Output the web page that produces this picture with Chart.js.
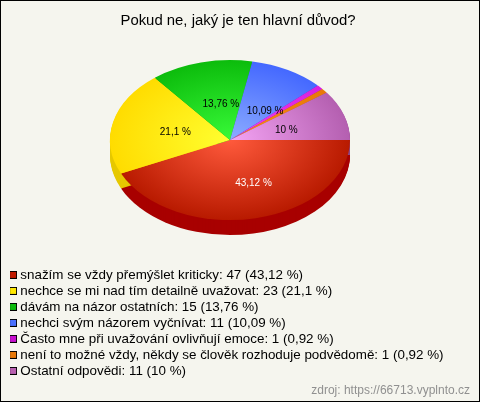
<!DOCTYPE html>
<html>
<head>
<meta charset="utf-8">
<style>
html,body{margin:0;padding:0;background:#f5f5ee}
#wrap{width:480px;height:402px}
canvas{display:block}
</style>
<script src="https://cdn.jsdelivr.net/npm/chart.js@4"></script>
</head>
<body>
<div id="wrap"><canvas id="c" width="480" height="402"></canvas></div>
<script>
const chartTitle = "Pokud ne, jaký je ten hlavní důvod?";
const sourceNote = "zdroj: https://66713.vyplnto.cz";
const categories = [
  "snažím se vždy přemýšlet kriticky",
  "nechce se mi nad tím detailně uvažovat",
  "dávám na názor ostatních",
  "nechci svým názorem vyčnívat",
  "Často mne při uvažování ovlivňují emoce",
  "není to možné vždy, někdy se člověk rozhoduje podvědomě",
  "Ostatní odpovědi"
];
const counts = [47, 23, 15, 11, 1, 1, 11];
const percentTexts = ["43,12 %", "21,1 %", "13,76 %", "10,09 %", "0,92 %", "0,92 %", "10 %"];
const sliceLabels = ["43,12 %", "21,1 %", "13,76 %", "10,09 %", "", "", "10 %"];
const labelColors = ["#ffffff", "#000000", "#000000", "#000000", "#000000", "#000000", "#000000"];
const innerColors = ["#ff5a3c", "#ffff30", "#38fa38", "#8cacff", "#f040f0", "#f88c18", "#f4a4f4"];
const outerColors = ["#b81a00", "#ffdc00", "#0cbc0c", "#4468ff", "#d820e0", "#e87808", "#b45fb0"];
const sideColors = ["#a80000", "#e6c800", "#0a9a0a", "#3050c0", "#a010a8", "#b85c00", "#8c4688"];
const legendColors = ["#c01a00", "#ffe800", "#0cbc0c", "#4a70ff", "#c810d0", "#e87808", "#b860b0"];

const squash = 2 / 3, depth = 15;
const pieBox = {left: 110, top: 20, right: 350, bottom: 260};
const labelShiftX = [11, 2, 5, 7, 0, 0, 1];
const labelShiftY = [5, 1, 2, 5, 0, 0, 2];

function legendSwatch(color) {
  const s = document.createElement("canvas");
  s.width = 8; s.height = 8;
  const g = s.getContext("2d");
  g.fillStyle = color;
  g.fillRect(0, 0, 8, 8);
  g.strokeStyle = "#000000";
  g.lineWidth = 1;
  g.strokeRect(0.5, 0.5, 7, 7);
  return s;
}

const pie3d = {
  id: "pie3d",
  afterLayout(chart) {
    chart.chartArea = Object.assign({}, pieBox, {width: pieBox.right - pieBox.left, height: pieBox.bottom - pieBox.top});
    chart.legend.left += 4;
    chart.legend.top += 8;
  },
  beforeDatasetsDraw(chart) {
    const ctx = chart.ctx, arcs = chart.getDatasetMeta(0).data;
    const cx = arcs[0].x, cy = arcs[0].y;
    ctx.save();
    arcs.forEach((a, i) => {
      ctx.fillStyle = sideColors[i];
      for (let d = depth; d >= 1; d--) {
        ctx.save();
        ctx.translate(cx, cy + d);
        ctx.scale(1, squash);
        ctx.translate(-cx, -cy);
        ctx.beginPath();
        ctx.moveTo(a.x, a.y);
        ctx.arc(a.x, a.y, a.outerRadius, a.startAngle, a.endAngle);
        ctx.closePath();
        ctx.fill();
        ctx.restore();
      }
    });
    ctx.translate(cx, cy);
    ctx.scale(1, squash);
    ctx.translate(-cx, -cy);
  },
  afterDatasetsDraw(chart) {
    const ctx = chart.ctx, arcs = chart.getDatasetMeta(0).data;
    ctx.restore();
    ctx.save();
    ctx.font = "10px 'Liberation Sans', Arial, sans-serif";
    ctx.textAlign = "center";
    ctx.textBaseline = "middle";
    arcs.forEach((a, i) => {
      if (!sliceLabels[i]) return;
      const mid = (a.startAngle + a.endAngle) / 2;
      const r = a.outerRadius * 0.485;
      ctx.fillStyle = labelColors[i];
      ctx.fillText(sliceLabels[i], a.x + Math.cos(mid) * r + labelShiftX[i], a.y + Math.sin(mid) * r * squash + labelShiftY[i]);
    });
    ctx.restore();
  },
  afterDraw(chart) {
    const ctx = chart.ctx;
    ctx.save();
    ctx.strokeStyle = "#000000";
    ctx.lineWidth = 1;
    ctx.strokeRect(0.5, 0.5, chart.width - 1, chart.height - 1);
    ctx.restore();
  }
};

new Chart(document.getElementById("c"), {
  type: "pie",
  plugins: [pie3d],
  data: {
    labels: categories,
    datasets: [{
      data: counts,
      borderWidth: 0,
      backgroundColor(c) {
        const area = c.chart.chartArea;
        if (!area) return outerColors[c.dataIndex];
        const x = (area.left + area.right) / 2, y = (area.top + area.bottom) / 2;
        const g = c.chart.ctx.createRadialGradient(x, y, 0, x, y, (area.right - area.left) / 2);
        g.addColorStop(0, innerColors[c.dataIndex]);
        g.addColorStop(1, outerColors[c.dataIndex]);
        return g;
      }
    }]
  },
  options: {
    responsive: false,
    animation: false,
    rotation: 90,
    layout: {padding: {left: 6, right: 10, top: 8, bottom: 4}},
    plugins: {
      tooltip: {enabled: false},
      title: {
        display: true,
        text: chartTitle,
        color: "#000000",
        font: {family: "'Liberation Sans', Arial, sans-serif", size: 14.9, weight: "normal"},
        padding: {top: 4, bottom: 0}
      },
      subtitle: {
        display: true,
        position: "bottom",
        align: "end",
        text: sourceNote,
        color: "#909090",
        font: {family: "'Liberation Sans', Arial, sans-serif", size: 12, weight: "normal"},
        padding: {top: 4, bottom: 0}
      },
      legend: {
        display: true,
        position: "bottom",
        align: "start",
        labels: {
          usePointStyle: true,
          pointStyleWidth: 1,
          boxHeight: 8,
          padding: 2.6,
          color: "#000000",
          font: {family: "'Liberation Sans', Arial, sans-serif", size: 13.4},
          generateLabels() {
            return categories.map((name, i) => ({
              text: name + ": " + counts[i] + " (" + percentTexts[i] + ")",
              pointStyle: legendSwatch(legendColors[i]),
              fillStyle: legendColors[i],
              strokeStyle: "#000000",
              lineWidth: 1,
              hidden: false,
              index: i
            }));
          }
        }
      }
    }
  }
});
</script>
</body>
</html>
